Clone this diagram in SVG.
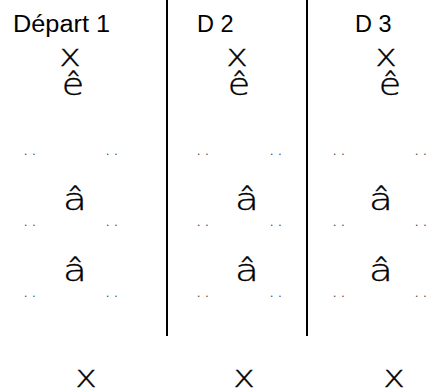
<svg xmlns="http://www.w3.org/2000/svg" width="431" height="391" viewBox="0 0 431 391">
<style>
.hd{font-family:"Liberation Sans",Arial,sans-serif;font-size:23.5px;fill:#000}
.g{font-family:"DejaVu Sans","Liberation Sans",sans-serif;font-weight:200;font-size:30px;fill:#000;stroke:#000;stroke-width:0.35;text-anchor:middle}
.d{font-family:"Liberation Sans",Arial,sans-serif;font-size:12px;fill:#444;letter-spacing:4.8px;opacity:0.99}
.sep{stroke:#000;stroke-width:2;fill:none}
</style>
<rect width="431" height="391" fill="#fff"/>
<g id="connectors">
<line class="sep" x1="167" y1="0" x2="167" y2="336"/>
<line class="sep" x1="307" y1="0" x2="307" y2="336"/>
</g>
<g id="col1">
<text class="hd" x="13" y="32" textLength="97" lengthAdjust="spacingAndGlyphs">Départ 1</text>
<text class="g" transform="translate(70,66) scale(1.22,1)">x</text>
<text class="g" transform="translate(73,95) scale(1.22,1)">ê</text>
<text class="d" x="24" y="155">..</text><text class="d" x="106" y="155">..</text>
<text class="g" transform="translate(75,210) scale(1.3,1)">â</text>
<text class="d" x="24" y="226">..</text><text class="d" x="106" y="226">..</text>
<text class="g" transform="translate(75,281) scale(1.3,1)">â</text>
<text class="d" x="24" y="297">..</text><text class="d" x="106" y="297">..</text>
<text class="g" transform="translate(86,387) scale(1.22,1)">x</text>
</g>
<g id="col2">
<text class="hd" x="197" y="32">D 2</text>
<text class="g" transform="translate(237,66) scale(1.22,1)">x</text>
<text class="g" transform="translate(239,95) scale(1.22,1)">ê</text>
<text class="d" x="197" y="155">..</text><text class="d" x="270" y="155">..</text>
<text class="g" transform="translate(247,210) scale(1.3,1)">â</text>
<text class="d" x="197" y="226">..</text><text class="d" x="270" y="226">..</text>
<text class="g" transform="translate(247,281) scale(1.3,1)">â</text>
<text class="d" x="197" y="297">..</text><text class="d" x="270" y="297">..</text>
<text class="g" transform="translate(244,387) scale(1.22,1)">x</text>
</g>
<g id="col3">
<text class="hd" x="355" y="32">D 3</text>
<text class="g" transform="translate(386,66) scale(1.22,1)">x</text>
<text class="g" transform="translate(390,95) scale(1.22,1)">ê</text>
<text class="d" x="333" y="155">..</text><text class="d" x="415" y="155">..</text>
<text class="g" transform="translate(381,210) scale(1.3,1)">â</text>
<text class="d" x="333" y="226">..</text><text class="d" x="415" y="226">..</text>
<text class="g" transform="translate(381,281) scale(1.3,1)">â</text>
<text class="d" x="333" y="297">..</text><text class="d" x="415" y="297">..</text>
<text class="g" transform="translate(394,387) scale(1.22,1)">x</text>
</g>
</svg>
